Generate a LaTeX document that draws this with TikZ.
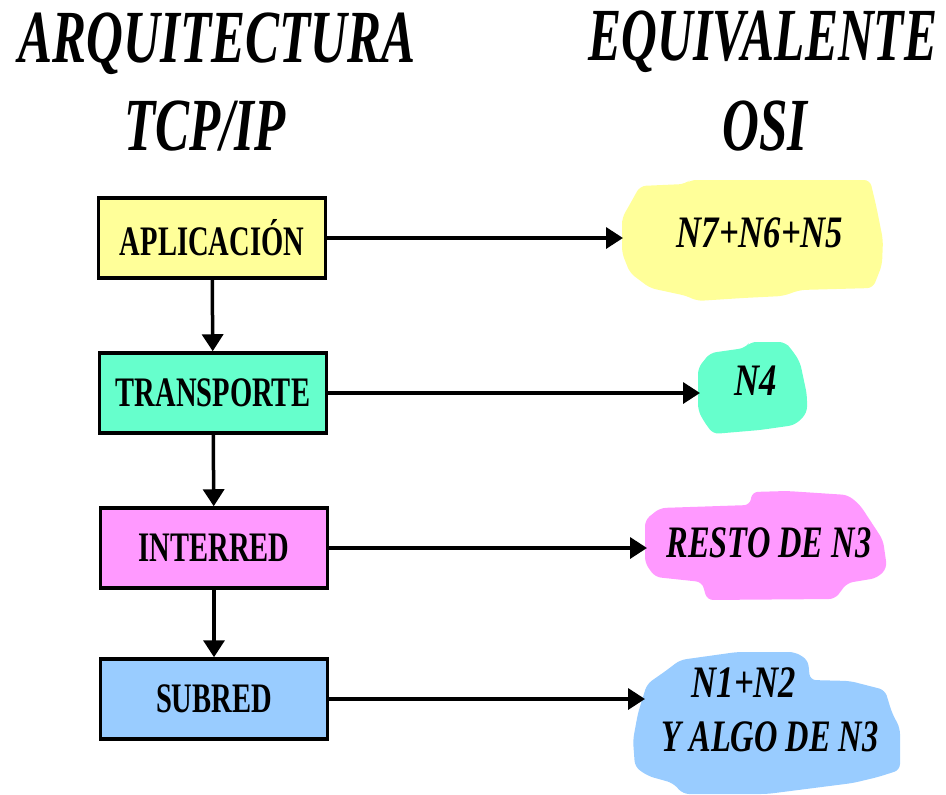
\documentclass[tikz,border=0pt]{standalone}
\usepackage{fontspec}
\setmainfont{Liberation Serif}
\usepackage{tikz}
\usetikzlibrary{arrows}
\usetikzlibrary{arrows.meta}
\usetikzlibrary{positioning}

\definecolor{amarilloCapa}{RGB}{255,255,153}
\definecolor{verdeCapa}{RGB}{102,255,204}
\definecolor{rosaCapa}{RGB}{255,153,255}
\definecolor{azulCapa}{RGB}{153,204,255}

\newcommand{\estrecho}[2]{\scalebox{#1}[1]{#2}}

\begin{document}
\begin{tikzpicture}[x=1pt, y=-1pt,
    capa/.style={draw, line width=3.5pt, minimum width=227pt, minimum height=80pt,
      inner sep=0pt, font=\bfseries\fontsize{42}{46}\selectfont},
    nube/.style={font=\bfseries\itshape\fontsize{45}{50}\selectfont, align=center},
    titulo/.style={font=\bfseries\itshape\fontsize{75}{80}\selectfont},
    flecha/.style={line width=3.5pt, -{Triangle[length=17pt,width=21pt]}}]
      \useasboundingbox (0,0) rectangle (946,795);

      % titulos
      \node[titulo] (arqA) at (217,44) {\estrecho{0.68}{ARQUITECTURA}};
      \node[titulo] (arqB) at (205,126) {\estrecho{0.68}{TCP/IP}};
      \node[titulo] (equA) at (763,42) {\estrecho{0.66}{EQUIVALENTE}};
      \node[titulo] (equB) at (765,126) {\estrecho{0.68}{OSI}};

      % nubes OSI
      \fill[amarilloCapa, rounded corners=6pt] (640,186) -- (685,184) -- (690,180) -- (870,180)
        -- (876,205) -- (883,240) -- (882,265) -- (873,288) -- (800,290) -- (783,296)
        -- (743,298) -- (697,301) -- (687,296) -- (650,288) -- (630,273) -- (622,253)
        -- (622,218) -- (630,204) -- cycle;
      \fill[verdeCapa, rounded corners=6pt] (750,342) -- (785,342) -- (792,350) -- (800,362)
        -- (807,395) -- (807,413) -- (795,425) -- (760,430) -- (713,434) -- (703,420)
        -- (698,410) -- (698,368) -- (710,353) -- (745,348) -- cycle;
      \fill[rosaCapa, rounded corners=6pt] (752,492) -- (787,491) -- (848,495) -- (860,505)
        -- (883,540) -- (887,568) -- (877,578) -- (847,583) -- (835,599) -- (707,600)
        -- (702,582) -- (655,577) -- (645,563) -- (645,520) -- (660,508) -- (750,505) -- cycle;
      \fill[azulCapa, rounded corners=6pt] (737,652) -- (795,652) -- (808,660) -- (810,680)
        -- (850,681) -- (885,690) -- (892,713) -- (900,728) -- (900,770) -- (878,777)
        -- (853,783) -- (767,794) -- (683,794) -- (673,783) -- (648,776) -- (635,767)
        -- (633,740) -- (638,713) -- (647,684) -- (667,670) -- (680,660) -- cycle;

      \node[nube] (osiA) at (760,233) {\estrecho{0.77}{N7+N6+N5}};
      \node[nube] (osiB) at (756,381) {\estrecho{0.77}{N4}};
      \node[nube] (osiC) at (769,543) {\estrecho{0.72}{RESTO DE N3}};
      \node[nube] (osiD1) at (744,683) {\estrecho{0.77}{N1+N2}};
      \node[nube] (osiD2) at (770,737) {\estrecho{0.72}{Y ALGO DE N3}};

      \coordinate (puntaA) at (623,238);
      \coordinate (puntaB) at (700,393);
      \coordinate (puntaC) at (647,548);
      \coordinate (puntaD) at (645,699);

      % capas TCP/IP
      \node[capa, fill=amarilloCapa] (aplic) at (212,238) {\estrecho{0.68}{APLICACIÓN}};
      \node[capa, fill=verdeCapa] (transp) at (213,393) {\estrecho{0.68}{TRANSPORTE}};
      \node[capa, fill=rosaCapa] (interred) at (214,548) {\estrecho{0.68}{INTERRED}};
      \node[capa, fill=azulCapa] (subred) at (214,699) {\estrecho{0.68}{SUBRED}};

      \draw[flecha] (aplic) -- (transp);
      \draw[flecha] (transp) -- (interred);
      \draw[flecha] (interred) -- (subred);

      \draw[flecha] (aplic.east) -- (puntaA);
      \draw[flecha] (transp.east) -- (puntaB);
      \draw[flecha] (interred.east) -- (puntaC);
      \draw[flecha] (subred.east) -- (puntaD);
    \end{tikzpicture}
\end{document}
